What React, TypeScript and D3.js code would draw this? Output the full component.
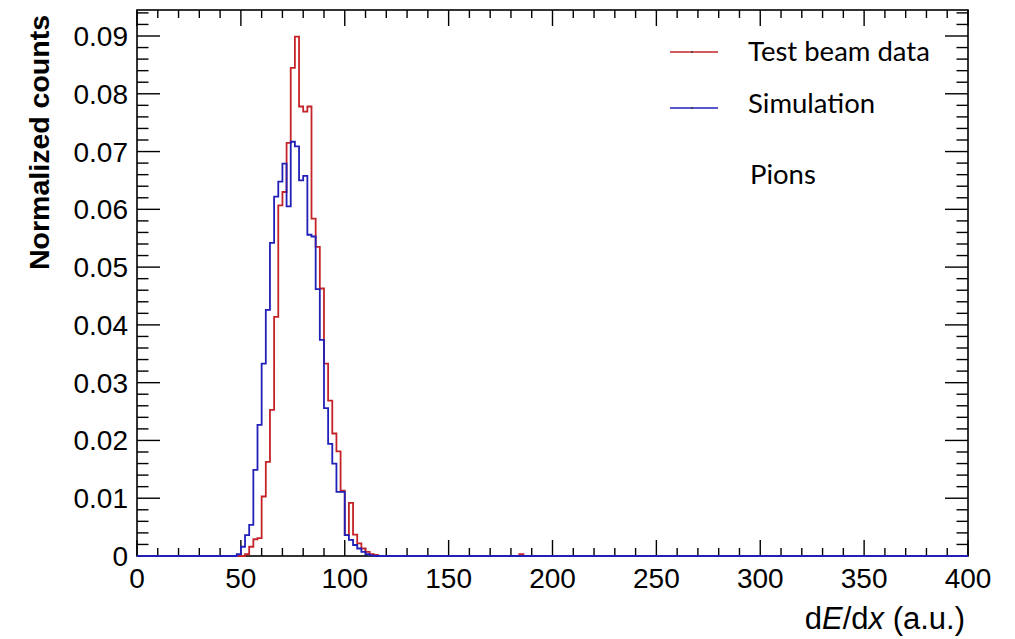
import React from "react";
import * as d3 from "d3";

// ---- data (bin width 2 in dE/dx, bins starting at dE/dx = 48) ----
const binWidth = 2;
const xMin = 0;
const xMax = 400;
const firstBinLow = 48;
const testBeam = [
  0, 0, 0.0003, 0.0016, 0.0029, 0.0031, 0.0103, 0.0163, 0.0253, 0.0414,
  0.0607, 0.063, 0.0715, 0.0845, 0.0899, 0.0778, 0.0769, 0.0778, 0.0584, 0.0535,
  0.0463, 0.0333, 0.0269, 0.0212, 0.0181, 0.0113, 0.0036, 0.0092, 0.0037, 0.0022,
  0.0013, 0.0007, 0.0003, 0.0002,
];
const simulation = [
  0.0003, 0.0016, 0.0036, 0.0054, 0.0149, 0.0227, 0.0333, 0.0426, 0.0542, 0.0622,
  0.0648, 0.0679, 0.0605, 0.0717, 0.0709, 0.065, 0.0658, 0.0556, 0.0553, 0.0462,
  0.0374, 0.0256, 0.0194, 0.016, 0.0111, 0.0111, 0.0036, 0.0028, 0.0019, 0.0013,
  0.0007, 0.0003, 0.0001, 0,
];
const testBeamOutliers = [{ low: 184, value: 0.0003 }];

const xTicks = [0, 50, 100, 150, 200, 250, 300, 350, 400];
const yTicks = [0, 0.01, 0.02, 0.03, 0.04, 0.05, 0.06, 0.07, 0.08, 0.09];
const yTickLabels = ["0", "0.01", "0.02", "0.03", "0.04", "0.05", "0.06", "0.07", "0.08", "0.09"];

const legendItems = [
  { label: "Test beam data", color: "#c42328" },
  { label: "Simulation", color: "#2020b8" },
];
const annotation = "Pions";

// ---- layout ----
const W = 1015;
const H = 639;
const left = 137;
const right = 968;
const top = 10;
const bottom = 556;

function fullBins(values: number[], outliers: { low: number; value: number }[]) {
  const n = Math.round((xMax - xMin) / binWidth);
  const arr = new Array(n).fill(0);
  const start = Math.round((firstBinLow - xMin) / binWidth);
  values.forEach((v, i) => (arr[start + i] = v));
  outliers.forEach((o) => (arr[Math.round((o.low - xMin) / binWidth)] = o.value));
  return arr;
}

export default function App() {
  const x = d3.scaleLinear().domain([xMin, xMax]).range([left, right]);
  const y = d3.scaleLinear().domain([0, 0.0945]).range([bottom, top]);

  const stepPath = (vals: number[]) => {
    const pts: [number, number][] = vals.map((v, i) => [xMin + i * binWidth, v]);
    pts.push([xMax, vals[vals.length - 1]]);
    return d3
      .line<[number, number]>()
      .x((d) => x(d[0]))
      .y((d) => y(d[1]))
      .curve(d3.curveStepAfter)(pts) as string;
  };

  const redBins = fullBins(testBeam, testBeamOutliers);
  const blueBins = fullBins(simulation, []);

  const xMinor = d3.range(xMin, xMax + 0.001, 10);
  const yMinor = d3.range(0, 0.0945, 0.002);

  const tickFont = "'Liberation Sans', Arial, sans-serif";
  const legendFont = "Lato, 'Open Sans', sans-serif";
  const legendBaselines = [61, 113];

  return (
    <svg
      width={W}
      height={H}
      style={{ position: "absolute", left: 0, top: 0, background: "#fff" }}
    >
      {/* frame */}
      <rect x={left} y={top} width={right - left} height={bottom - top} fill="none" stroke="#000" strokeWidth={1.6} />

      {/* x ticks */}
      {xMinor.map((t) => {
        const major = Math.abs(t % 50) < 1e-6;
        const len = major ? 16 : 8;
        return (
          <g key={"xt" + t}>
            <line x1={x(t)} x2={x(t)} y1={bottom} y2={bottom - len} stroke="#000" strokeWidth={1.4} />
            <line x1={x(t)} x2={x(t)} y1={top} y2={top + len} stroke="#000" strokeWidth={1.4} />
          </g>
        );
      })}
      {/* y ticks */}
      {yMinor.map((t, i) => {
        const major = i % 5 === 0;
        const len = major ? 23 : 11.5;
        return (
          <g key={"yt" + i}>
            <line x1={left} x2={left + len} y1={y(t)} y2={y(t)} stroke="#000" strokeWidth={1.4} />
            <line x1={right} x2={right - len} y1={y(t)} y2={y(t)} stroke="#000" strokeWidth={1.4} />
          </g>
        );
      })}

      {/* histograms */}
      <path d={stepPath(redBins)} fill="none" stroke={legendItems[0].color} strokeWidth={1.8} />
      <path d={stepPath(blueBins)} fill="none" stroke={legendItems[1].color} strokeWidth={1.8} />

      {/* tick labels */}
      {xTicks.map((t) => (
        <text key={"xl" + t} x={x(t)} y={bottom + 32} textAnchor="middle" fontFamily={tickFont} fontSize={28} fill="#000">
          {t}
        </text>
      ))}
      {yTicks.map((t, i) => (
        <text key={"yl" + i} x={128} y={y(t) + 10} textAnchor="end" fontFamily={tickFont} fontSize={28} fill="#000">
          {yTickLabels[i]}
        </text>
      ))}

      {/* axis titles */}
      <text
        transform={`translate(49, ${top + 5}) rotate(-90)`}
        textAnchor="end"
        fontFamily={tickFont}
        fontSize={28.5}
        fontWeight="bold"
        fill="#000"
      >
        Normalized counts
      </text>
      <text x={965} y={629} textAnchor="end" fontFamily={tickFont} fontSize={31} fill="#000">
        d<tspan fontStyle="italic">E</tspan>/d<tspan fontStyle="italic">x</tspan> (a.u.)
      </text>

      {/* legend */}
      {legendItems.map((it, i) => {
        const ly = 52 + i * 56;
        return (
          <g key={it.label}>
            <line x1={670} x2={718} y1={ly} y2={ly} stroke={it.color} strokeWidth={1.6} />
            <circle cx={692} cy={ly} r={0.9} fill="#333" />
            <text x={748} y={legendBaselines[i]} fontFamily={legendFont} fontSize={27.5} fill="#000">
              {it.label}
            </text>
          </g>
        );
      })}
      <text x={750} y={184} fontFamily={legendFont} fontSize={27.5} fill="#000">
        {annotation}
      </text>
    </svg>
  );
}
